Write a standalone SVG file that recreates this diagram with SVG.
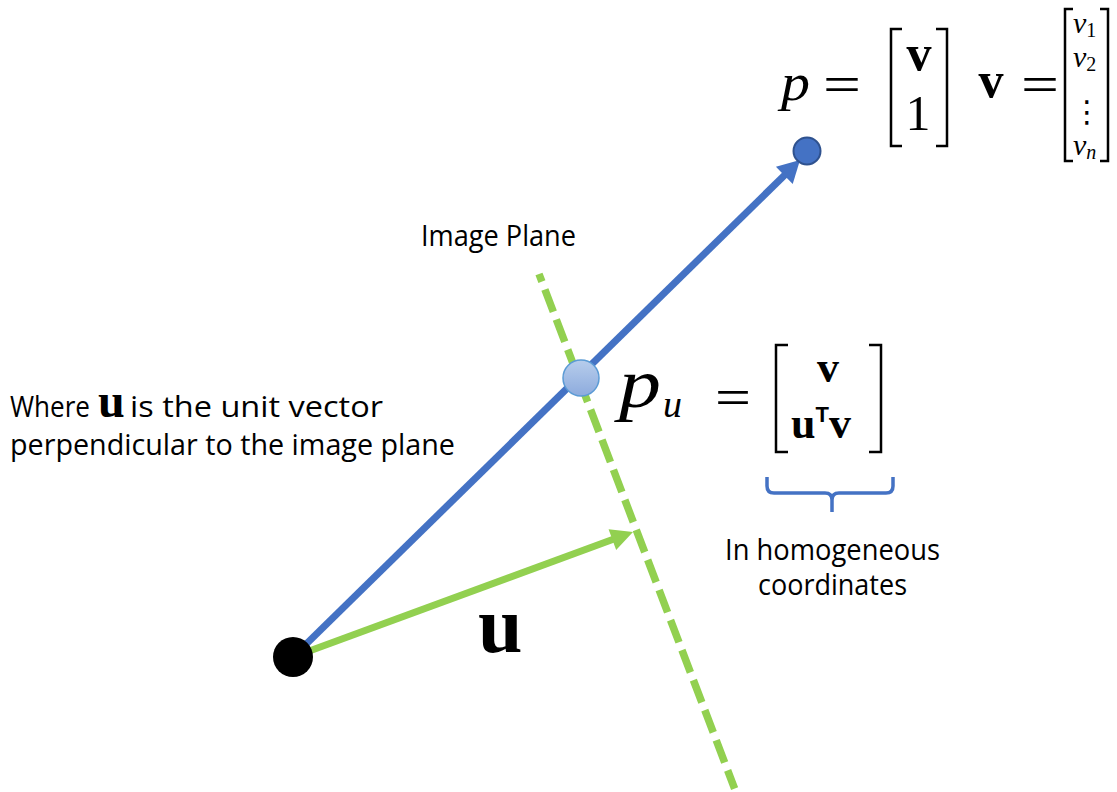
<svg xmlns="http://www.w3.org/2000/svg" width="1117" height="792" viewBox="0 0 1117 792">
<style>
.lbl{font-family:"Open Sans","Noto Sans","Liberation Sans",sans-serif;font-size:29px;fill:#000}
.mi{font-family:"Liberation Serif",serif;font-style:italic;fill:#000}
.mb{font-family:"Liberation Serif",serif;font-weight:bold;fill:#000}
.mr{font-family:"Liberation Serif",serif;fill:#000}
.br{fill:none;stroke:#000;stroke-width:2.5}
</style>
<defs>
<marker id="ahBlue" markerUnits="userSpaceOnUse" markerWidth="30" markerHeight="30" viewBox="-10 -15 30 30" refX="0" refY="0" orient="auto">
<path d="M-6,-12 L16,0 L-6,12 z" fill="#4472C4"/>
</marker>
<marker id="ahGreen" markerUnits="userSpaceOnUse" markerWidth="30" markerHeight="30" viewBox="-10 -15 30 30" refX="0" refY="0" orient="auto">
<path d="M-6,-11 L16,0 L-6,11 z" fill="#92D050"/>
</marker>
<linearGradient id="lb" x1="0" y1="0" x2="0" y2="1">
<stop offset="0" stop-color="#B7CDEC"/>
<stop offset="1" stop-color="#8DABDD"/>
</linearGradient>
</defs>
<rect width="1117" height="792" fill="#fff"/>

<g id="connectors">
<line id="image-plane" x1="539" y1="274" x2="734.6" y2="788.6" stroke="#92D050" stroke-width="7.5" stroke-dasharray="23.8 8.35" stroke-dashoffset="15.6"/>
<line id="ray-p" x1="293" y1="657" x2="788.6" y2="171.2" stroke="#4472C4" stroke-width="7" marker-end="url(#ahBlue)"/>
<line id="vec-u" x1="293" y1="657" x2="618" y2="537.5" stroke="#92D050" stroke-width="7" marker-end="url(#ahGreen)"/>
</g>

<g id="origin">
<circle cx="293" cy="657" r="20" fill="#000"/>
</g>

<g id="point-p">
<circle cx="807" cy="151" r="13.5" fill="#4472C4" stroke="#2F528F" stroke-width="2"/>
</g>

<g id="point-pu">
<circle cx="581" cy="378" r="18" fill="url(#lb)" stroke="#5B9BD5" stroke-width="1.5"/>
</g>

<g id="label-image-plane">
<text class="lbl" x="421" y="246" textLength="155" lengthAdjust="spacingAndGlyphs">Image Plane</text>
</g>

<g id="label-where">
<text class="lbl" x="10" y="417" textLength="80" lengthAdjust="spacingAndGlyphs">Where</text>
<text class="mb" x="98" y="417" font-size="48">u</text>
<text class="lbl" x="130" y="417" textLength="253" lengthAdjust="spacingAndGlyphs">is the unit vector</text>
<text class="lbl" x="10" y="455" textLength="445" lengthAdjust="spacingAndGlyphs">perpendicular to the image plane</text>
</g>

<g id="label-u">
<text class="mb" x="478" y="652" font-size="80">u</text>
</g>

<g id="formula-p">
<text class="mi" x="781" y="100" font-size="52" textLength="29" lengthAdjust="spacingAndGlyphs">p</text>
<text class="mr" x="823" y="102" font-size="52" textLength="38" lengthAdjust="spacingAndGlyphs">=</text>
<path class="br" d="M902,29 H891 V146 H902"/>
<path class="br" d="M936,29 H947 V146 H936"/>
<text class="mb" x="919" y="70" font-size="50" text-anchor="middle">v</text>
<text class="mr" x="918" y="130" font-size="50" text-anchor="middle">1</text>
<text class="mb" x="991" y="97" font-size="50" text-anchor="middle">v</text>
<text class="mr" x="1021" y="102" font-size="52" textLength="38" lengthAdjust="spacingAndGlyphs">=</text>
<path class="br" d="M1073,9 H1065 V161 H1073"/>
<path class="br" d="M1100,9 H1108 V161 H1100"/>
<text class="mi" x="1073" y="33" font-size="30">v<tspan font-size="20" font-style="normal" dy="4">1</tspan></text>
<text class="mi" x="1073" y="67" font-size="30">v<tspan font-size="20" font-style="normal" dy="4">2</tspan></text>
<text x="1087" y="122" font-size="30" text-anchor="middle" font-family="DejaVu Sans, sans-serif">⋮</text>
<text class="mi" x="1073" y="155" font-size="30">v<tspan font-size="20" dy="4">n</tspan></text>
</g>

<g id="formula-pu">
<text class="mi" x="619" y="407" font-size="70" textLength="42" lengthAdjust="spacingAndGlyphs">p</text>
<text class="mi" x="663" y="417" font-size="38">u</text>
<text class="mr" x="715" y="415" font-size="52" textLength="36" lengthAdjust="spacingAndGlyphs">=</text>
<path class="br" d="M788,345 H776 V452 H788"/>
<path class="br" d="M869,345 H881 V452 H869"/>
<text class="mb" x="828" y="382" font-size="44" text-anchor="middle">v</text>
<text class="mb" x="791" y="438" font-size="44">u<tspan font-family="Liberation Sans, sans-serif" font-size="22" dy="-16">T</tspan><tspan dy="16">v</tspan></text>
</g>

<g id="brace">
<path d="M767,477 V486 Q767,493 774,493 H825 Q832,493 832,500 V512 M832,500 Q832,493 839,493 H886 Q893,493 893,486 V477" fill="none" stroke="#4472C4" stroke-width="3.5"/>
</g>

<g id="label-homogeneous">
<text class="lbl" x="725" y="560" textLength="215" lengthAdjust="spacingAndGlyphs">In homogeneous</text>
<text class="lbl" x="758" y="595" textLength="149" lengthAdjust="spacingAndGlyphs">coordinates</text>
</g>
</svg>
